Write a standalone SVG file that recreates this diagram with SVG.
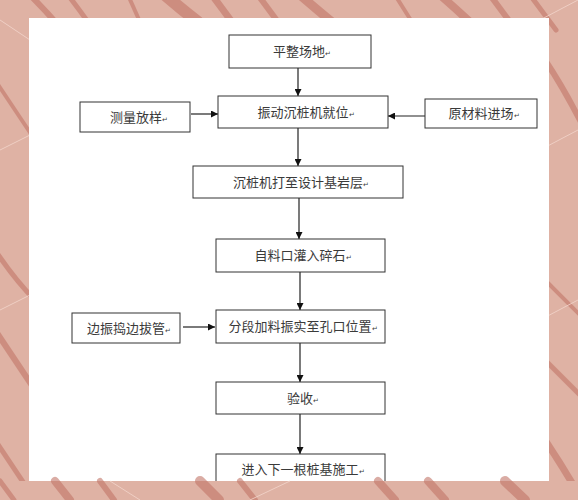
<svg xmlns="http://www.w3.org/2000/svg" width="578" height="500" viewBox="0 0 578 500">
<defs>
<style>
.box{fill:#fff;stroke:#333;stroke-width:1}
.t{font-family:"Liberation Serif","Noto Sans CJK SC",serif;font-size:13px;fill:#3a3a3a;text-anchor:middle}
.pm{font-size:7px}
.c{stroke:#222;stroke-width:1.2;fill:none}
.dk{stroke:#c27468;fill:none;stroke-linecap:round;opacity:0.6}
.lt{stroke:#f3d6cc;fill:none;stroke-width:1;opacity:0.8}
</style>
<marker id="ah" viewBox="0 0 10 10" refX="10" refY="5" markerWidth="8" markerHeight="7" markerUnits="userSpaceOnUse" orient="auto">
<path d="M0,0 L10,5 L0,10 Z" fill="#111"/>
</marker>
</defs>
<g id="background">
<rect x="0" y="0" width="578" height="500" fill="#dfb2a4"/>
<path class="dk" stroke-width="6" d="M30,-5 Q45,10 58,25"/>
<path class="dk" stroke-width="5" d="M68,-5 Q78,8 88,22"/>
<path class="dk" stroke-width="4" d="M128,-5 L140,22"/>
<path class="dk" stroke-width="12" d="M165,-5 Q180,8 198,22"/>
<path class="dk" stroke-width="7" d="M212,-5 L232,22"/>
<path class="dk" stroke-width="6" d="M258,-5 L278,22"/>
<path class="dk" stroke-width="9" d="M300,-5 Q315,8 332,22"/>
<path class="dk" stroke-width="4" d="M395,-5 L412,22"/>
<path class="dk" stroke-width="8" d="M440,-5 Q455,8 470,22"/>
<path class="dk" stroke-width="6" d="M490,-5 L510,22"/>
<path class="dk" stroke-width="5" d="M530,-5 L556,30"/>
<path class="dk" stroke-width="6" d="M545,60 Q565,90 585,130"/>
<path class="dk" stroke-width="4" d="M545,280 Q565,300 585,320"/>
<path class="dk" stroke-width="5" d="M545,360 Q565,380 585,400"/>
<path class="dk" stroke-width="7" d="M545,440 Q565,470 585,505"/>
<path class="dk" stroke-width="4" d="M-5,80 Q15,110 35,140"/>
<path class="dk" stroke-width="5" d="M-5,250 Q15,280 35,300"/>
<path class="dk" stroke-width="6" d="M-5,330 Q15,360 35,390"/>
<path class="dk" stroke-width="5" d="M-5,440 Q15,470 35,500"/>
<path class="lt" d="M0,150 L40,130"/>
<path class="lt" d="M0,310 L40,290"/>
<path class="lt" d="M540,20 L578,0"/>
<path class="lt" d="M540,150 L578,130"/>
<path class="lt" d="M540,320 L578,300"/>
<path class="lt" d="M0,20 L30,40"/>
<rect x="29" y="18" width="520" height="463" fill="#fff"/>
</g>
<g id="connectors">
<line class="c" x1="298" y1="68" x2="298" y2="96" marker-end="url(#ah)"/>
<line class="c" x1="191" y1="114" x2="218" y2="114" marker-end="url(#ah)"/>
<line class="c" x1="425" y1="116" x2="388" y2="116" marker-end="url(#ah)"/>
<line class="c" x1="298" y1="128" x2="298" y2="166" marker-end="url(#ah)"/>
<line class="c" x1="299" y1="198" x2="299" y2="239" marker-end="url(#ah)"/>
<line class="c" x1="300" y1="272" x2="300" y2="310" marker-end="url(#ah)"/>
<line class="c" x1="183" y1="327" x2="215" y2="327" marker-end="url(#ah)"/>
<line class="c" x1="300" y1="343" x2="300" y2="382" marker-end="url(#ah)"/>
<line class="c" x1="300" y1="414" x2="300" y2="454" marker-end="url(#ah)"/>
</g>
<g id="n1"><rect class="box" x="229" y="35" width="142" height="33"/><text class="t" x="302" y="56">平整场地<tspan class="pm">↵</tspan></text></g>
<g id="n2"><rect class="box" x="218" y="96" width="170" height="32"/><text class="t" x="306" y="117">振动沉桩机就位<tspan class="pm">↵</tspan></text></g>
<g id="n3"><rect class="box" x="80" y="102" width="110" height="30"/><text class="t" x="139" y="122">测量放样<tspan class="pm">↵</tspan></text></g>
<g id="n4"><rect class="box" x="425" y="99" width="112" height="29"/><text class="t" x="484" y="118">原材料进场<tspan class="pm">↵</tspan></text></g>
<g id="n5"><rect class="box" x="193" y="166" width="210" height="32"/><text class="t" x="301" y="187">沉桩机打至设计基岩层<tspan class="pm">↵</tspan></text></g>
<g id="n6"><rect class="box" x="216" y="239" width="169" height="33"/><text class="t" x="303" y="260">自料口灌入碎石<tspan class="pm">↵</tspan></text></g>
<g id="n7"><rect class="box" x="72" y="313" width="108" height="30"/><text class="t" x="129" y="333">边振捣边拔管<tspan class="pm">↵</tspan></text></g>
<g id="n8"><rect class="box" x="216" y="310" width="169" height="33"/><text class="t" x="303" y="331">分段加料振实至孔口位置<tspan class="pm">↵</tspan></text></g>
<g id="n9"><rect class="box" x="216" y="382" width="169" height="32"/><text class="t" x="303" y="403">验收<tspan class="pm">↵</tspan></text></g>
<g id="n10"><rect class="box" x="216" y="454" width="169" height="40"/><text class="t" x="303" y="474">进入下一根桩基施工<tspan class="pm">↵</tspan></text></g>
<g id="bottomband">
<rect x="0" y="481" width="578" height="19" fill="#dfb2a4"/>
<path class="dk" stroke-width="8" d="M55,481 L70,500"/>
<path class="dk" stroke-width="6" d="M100,481 L114,500"/>
<path class="dk" stroke-width="10" d="M200,481 L219,500"/>
<path class="dk" stroke-width="6" d="M240,481 L255,500"/>
<path class="dk" stroke-width="8" d="M378,481 L395,500"/>
<path class="dk" stroke-width="8" d="M428,481 L445,500"/>
<path class="dk" stroke-width="10" d="M505,481 L525,500"/>
<path class="dk" stroke-width="5" d="M0,481 L14,500"/>
<path class="lt" d="M250,500 L290,481"/>
<path class="lt" d="M140,500 L110,481"/>
</g>
</svg>
